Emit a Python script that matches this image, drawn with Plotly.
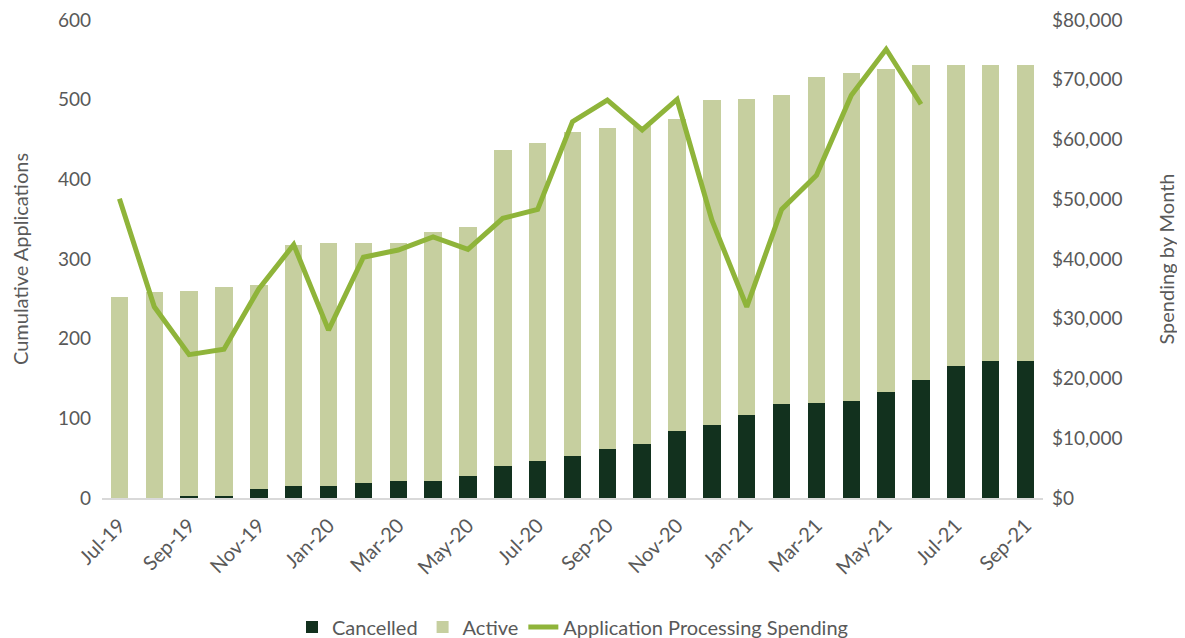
import plotly.graph_objects as go

months = ["Jul-19","Aug-19","Sep-19","Oct-19","Nov-19","Dec-19","Jan-20","Feb-20","Mar-20","Apr-20",
          "May-20","Jun-20","Jul-20","Aug-20","Sep-20","Oct-20","Nov-20","Dec-20","Jan-21","Feb-21",
          "Mar-21","Apr-21","May-21","Jun-21","Jul-21","Aug-21","Sep-21"]
total = [252,258,260,265,267,318,320,320,320,334,
         340,437,445,459,465,467,476,499,501,506,
         529,534,538,543,543,543,543]
cancelled = [0,0,2.5,2.5,11,15.5,15.5,19,21,21,
             27,40,46,53,61,68,84,92,104,118,
             119,122,133,148,166,172,172]
active = [t - c for t, c in zip(total, cancelled)]
spend_months = months[:24]
spending = [50100,32000,24000,24900,35000,42400,28100,40300,41500,43700,
            41600,46800,48300,63000,66600,61600,66700,46500,32000,48300,
            54000,67400,75100,65900]
tick_labels = months[::2]

FONT = "Lato"
GREY = "#595959"

fig = go.Figure()
fig.add_trace(go.Bar(x=months, y=cancelled, name="Cancelled", marker_color="#12311E",
                     marker_line_width=0))
fig.add_trace(go.Bar(x=months, y=active, name="Active", marker_color="#C6CF9F",
                     marker_line_width=0))
fig.add_trace(go.Scatter(x=spend_months, y=spending, name="Application Processing Spending",
                         mode="lines", line=dict(color="#8FB43A", width=5), yaxis="y2"))

fig.update_layout(
    barmode="stack", bargap=0.5,
    width=1185, height=638,
    margin=dict(l=94, r=150, t=12, b=148, autoexpand=False),
    plot_bgcolor="white", paper_bgcolor="white",
    font=dict(family=FONT, size=18, color=GREY),
    showlegend=True,
    legend=dict(orientation="h", x=0.5, xanchor="center", y=-0.27, yanchor="middle",
                font=dict(size=20, color=GREY), traceorder="normal"),
    xaxis=dict(type="category", categoryorder="array", categoryarray=months,
               tickmode="array", tickvals=tick_labels, ticktext=tick_labels,
               tickangle=-45, showline=True, linecolor="#D9D9D9", linewidth=2,
               showgrid=False, ticks="", tickfont=dict(size=20, color=GREY), automargin=False,
               ticklabelstandoff=6),
    yaxis=dict(range=[0, 600], dtick=100, showgrid=False, zeroline=False, automargin=False,
               ticklabeloverflow="allow",
               title=dict(text="Cumulative Applications", font=dict(size=20, color=GREY), standoff=32),
               tickfont=dict(size=19, color=GREY), ticklabelstandoff=10),
    yaxis2=dict(range=[0, 80000], dtick=10000, overlaying="y", side="right", automargin=False,
                ticklabeloverflow="allow",
                showgrid=False, zeroline=False, tickprefix="$", tickformat=",d",
                title=dict(text="Spending by Month", font=dict(size=20, color=GREY), standoff=38),
                tickfont=dict(size=19, color=GREY), ticklabelstandoff=8),
)

fig.write_html("out.html")
